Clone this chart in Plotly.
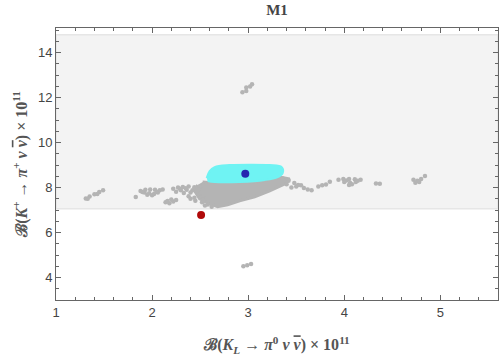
import plotly.graph_objects as go

# scan points (grey)
gray_x = [1.31, 1.35, 1.40, 1.45, 1.49, 1.33, 1.43,
          1.83, 1.88, 1.93, 1.98, 2.03, 2.08, 2.11, 1.92, 1.97, 2.02, 2.06, 2.00, 1.95, 1.90, 2.05,
          2.14, 2.18, 2.22, 2.25, 2.20, 2.16,
          2.22, 2.27, 2.32, 2.38, 2.44, 2.50, 2.25, 2.30, 2.36, 2.42, 2.48, 2.33, 2.40, 2.47,
          2.29, 2.35, 2.45,
          2.38, 2.44, 2.50, 2.56, 2.45, 2.52, 2.58, 2.62, 2.55, 2.40, 2.48, 2.54,
          3.36, 3.42, 3.48, 3.55, 3.40, 3.50, 3.58, 3.62, 3.66, 3.45, 3.52,
          3.73, 3.77, 3.81, 3.85,
          3.94, 3.99, 4.05, 4.11, 4.17, 4.00, 4.06, 4.12, 4.05, 4.08, 4.02, 4.14,
          4.33, 4.37,
          4.72, 4.76, 4.80, 4.74, 4.78, 4.84,
          2.94, 2.98, 2.98, 3.02, 3.04,
          2.95, 2.99, 3.03]
gray_y = [7.52, 7.60, 7.70, 7.80, 7.88, 7.50, 7.72,
          7.58, 7.85, 7.90, 7.92, 7.90, 7.88, 7.92, 7.78, 7.75, 7.72, 7.78, 7.66, 7.68, 7.80, 7.82,
          7.35, 7.30, 7.38, 7.45, 7.47, 7.40,
          7.95, 8.00, 8.03, 8.05, 8.02, 8.05, 7.82, 7.88, 7.90, 7.88, 7.92, 7.76, 7.78, 7.80,
          7.95, 7.97, 7.95,
          7.62, 7.55, 7.60, 7.50, 7.42, 7.35, 7.25, 7.15, 7.20, 7.50, 7.70, 7.40,
          8.40, 8.30, 8.20, 8.10, 8.15, 8.05, 7.98, 7.92, 7.88, 8.00, 8.12,
          8.05, 8.10, 8.14, 8.26,
          8.35, 8.38, 8.38, 8.37, 8.35, 8.25, 8.22, 8.25, 8.12, 8.15, 8.32, 8.30,
          8.18, 8.17,
          8.35, 8.30, 8.38, 8.22, 8.25, 8.52,
          12.24, 12.30, 12.45, 12.50, 12.60,
          4.50, 4.55, 4.60]

# dense grey region under the cyan area
blob_x = [2.526, 2.651, 2.911, 3.172, 3.328, 3.432, 3.380, 3.224, 3.068, 2.911,
          2.786, 2.682, 2.599, 2.495, 2.443, 2.474]
blob_y = [8.251, 8.207, 8.207, 8.295, 8.471, 8.383, 8.163, 7.855, 7.590, 7.414,
          7.238, 7.150, 7.282, 7.502, 7.855, 8.119]

# cyan allowed region
cyan_x = [2.568, 2.599, 2.651, 2.807, 3.016, 3.224, 3.349, 3.359, 3.307, 3.172,
          2.911, 2.651, 2.578]
cyan_y = [8.427, 8.736, 8.912, 9.000, 9.022, 9.000, 8.912, 8.648, 8.471, 8.339,
          8.251, 8.251, 8.295]

blue_pt = (2.97, 8.62)
red_pt = (2.51, 6.78)

band = (7.06, 14.8)

fig = go.Figure()
fig.add_trace(go.Scatter(x=blob_x, y=blob_y, fill='toself', mode='lines',
                         line=dict(color='#b4b4b4', width=3), fillcolor='#b4b4b4'))
fig.add_trace(go.Scatter(x=gray_x, y=gray_y, mode='markers',
                         marker=dict(color='#b4b4b4', size=4.5)))
fig.add_trace(go.Scatter(x=cyan_x, y=cyan_y, fill='toself', mode='lines',
                         line=dict(color='#6ff3f3', width=2, shape='spline'),
                         fillcolor='#6ff3f3'))
fig.add_trace(go.Scatter(x=[blue_pt[0]], y=[blue_pt[1]], mode='markers',
                         marker=dict(color='#2626b0', size=8)))
fig.add_trace(go.Scatter(x=[red_pt[0]], y=[red_pt[1]], mode='markers',
                         marker=dict(color='#b00a0a', size=8)))

fig.add_shape(type='rect', xref='paper', x0=0, x1=1, y0=band[0], y1=band[1],
              fillcolor='#f3f3f3', line=dict(color='#e6e6e6', width=1.5), layer='below')

tick_font = dict(family='Liberation Sans, Arial', size=13, color='#444')
title_font = dict(family='Liberation Serif, DejaVu Serif', size=16, color='#555')
nubar = "<span style='text-decoration:overline'><i>ν</i></span>"

fig.update_layout(
    width=500, height=359,
    margin=dict(l=56, r=2, t=28, b=59, autoexpand=False),
    paper_bgcolor='white', plot_bgcolor='white',
    showlegend=False,
    title=dict(text='<b>M1</b>', x=0.554, xanchor='center', y=0.972, yanchor='middle',
               font=dict(family='Liberation Serif, Times New Roman', size=15, color='#444')),
    xaxis=dict(range=[1, 5.6], tickvals=[1, 2, 3, 4, 5], ticks='inside', ticklen=5,
               tickcolor='#666', showline=True, linecolor='#666', mirror='allticks',
               showgrid=False, zeroline=False, tickfont=tick_font, automargin=False,
               minor=dict(dtick=0.2, ticks='inside', ticklen=3, tickcolor='#666'),
               title=dict(text='<b>ℬ(<i>K<sub>L</sub></i> → <i>π</i><sup>0</sup> <i>ν</i> '
                               + nubar + ') × 10<sup>11</sup></b>',
                          font=title_font, standoff=20)),
    yaxis=dict(range=[3, 15.1], tickvals=[4, 6, 8, 10, 12, 14], ticks='inside', ticklen=5,
               tickcolor='#666', showline=True, linecolor='#666', mirror='allticks',
               showgrid=False, zeroline=False, tickfont=tick_font, automargin=False,
               minor=dict(dtick=0.5, ticks='inside', ticklen=3, tickcolor='#666'),
               title=dict(text='<b>ℬ(<i>K</i><sup>+</sup> → <i>π</i><sup>+</sup> <i>ν</i> '
                               + nubar + ') × 10<sup>11</sup></b>',
                          font=title_font, standoff=6)),
)

# page body has an 8px default margin; drop it so the figure fills the window
fig.write_html("out.html", config={'displayModeBar': False},
               post_script="document.body.style.margin='0px';")
